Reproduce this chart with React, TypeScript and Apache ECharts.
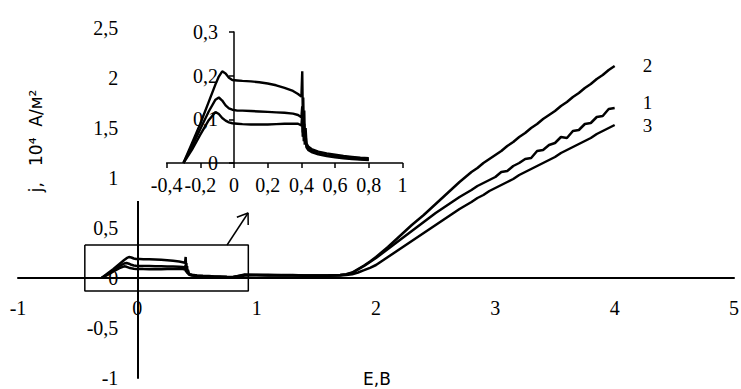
import React, { useEffect, useRef } from 'react';
import * as echarts from 'echarts';

// ---------- data ----------
// shared potential grid for the low-potential part (also shown in the inset)
const lowX = [-0.3, -0.25, -0.2, -0.15, -0.11, -0.09, -0.07, -0.05, -0.03, -0.01, 0.02, 0.05, 0.1, 0.15, 0.2, 0.25, 0.3, 0.35, 0.38, 0.4, 0.405, 0.408, 0.411, 0.414, 0.417, 0.42, 0.425, 0.43, 0.44, 0.46, 0.5, 0.55, 0.6, 0.65, 0.7, 0.75, 0.8];
const low2 = [0, 0.045, 0.09, 0.14, 0.18, 0.198, 0.21, 0.205, 0.195, 0.19, 0.189, 0.188, 0.187, 0.185, 0.182, 0.178, 0.172, 0.165, 0.158, 0.152, 0.21, 0.12, 0.15, 0.08, 0.12, 0.06, 0.08, 0.045, 0.038, 0.032, 0.026, 0.022, 0.019, 0.016, 0.014, 0.012, 0.011];
const low1 = [0, 0.038, 0.078, 0.118, 0.145, 0.15, 0.143, 0.132, 0.125, 0.122, 0.12, 0.12, 0.119, 0.118, 0.117, 0.116, 0.115, 0.113, 0.11, 0.105, 0.13, 0.07, 0.11, 0.06, 0.09, 0.05, 0.065, 0.04, 0.034, 0.028, 0.022, 0.018, 0.015, 0.013, 0.011, 0.009, 0.008];
const low3 = [0, 0.03, 0.065, 0.098, 0.117, 0.112, 0.103, 0.097, 0.093, 0.091, 0.09, 0.089, 0.088, 0.088, 0.088, 0.089, 0.09, 0.09, 0.09, 0.086, 0.11, 0.06, 0.09, 0.05, 0.075, 0.042, 0.055, 0.036, 0.03, 0.025, 0.02, 0.016, 0.013, 0.011, 0.009, 0.008, 0.007];

// high-potential part (main chart only)
const highX = [0.9, 1.0, 1.1, 1.2, 1.3, 1.4, 1.5, 1.6, 1.7, 1.75, 1.8, 1.85, 1.9, 1.95, 2.0, 2.1, 2.2, 2.3, 2.4, 2.5, 2.6, 2.7, 2.8, 2.85, 2.9, 2.95, 3.0, 3.05, 3.1, 3.15, 3.2, 3.25, 3.3, 3.35, 3.4, 3.45, 3.5, 3.55, 3.6, 3.65, 3.7, 3.75, 3.8, 3.85, 3.9, 3.95, 4.0];
const high2 = [0.03, 0.032, 0.028, 0.03, 0.027, 0.025, 0.024, 0.026, 0.03, 0.038, 0.055, 0.09, 0.125, 0.165, 0.21, 0.31, 0.42, 0.53, 0.63, 0.74, 0.85, 0.96, 1.06, 1.1, 1.15, 1.19, 1.23, 1.27, 1.32, 1.36, 1.41, 1.45, 1.5, 1.54, 1.59, 1.63, 1.67, 1.72, 1.76, 1.81, 1.85, 1.9, 1.94, 1.99, 2.03, 2.08, 2.12];
const high1 = [0.035, 0.03, 0.032, 0.028, 0.03, 0.026, 0.025, 0.027, 0.03, 0.036, 0.05, 0.085, 0.12, 0.16, 0.2, 0.29, 0.38, 0.47, 0.56, 0.65, 0.73, 0.81, 0.88, 0.92, 0.95, 0.98, 1.01, 1.06, 1.07, 1.12, 1.15, 1.19, 1.2, 1.27, 1.28, 1.33, 1.35, 1.41, 1.4, 1.47, 1.48, 1.54, 1.55, 1.61, 1.62, 1.69, 1.7];
const high3 = [0.025, 0.028, 0.025, 0.026, 0.024, 0.022, 0.022, 0.023, 0.026, 0.03, 0.038, 0.055, 0.078, 0.102, 0.13, 0.21, 0.29, 0.37, 0.45, 0.53, 0.61, 0.69, 0.76, 0.8, 0.83, 0.87, 0.9, 0.93, 0.96, 0.99, 1.03, 1.06, 1.09, 1.12, 1.15, 1.18, 1.21, 1.25, 1.28, 1.31, 1.34, 1.37, 1.4, 1.44, 1.47, 1.5, 1.53];

const curveNames = ['2', '1', '3'];

// zoom box and arrow (annotation, data coordinates)
const boxX = [-0.44, 0.93, 0.93, -0.44, -0.44];
const boxY = [0.33, 0.33, -0.13, -0.13, 0.33];
const arrowX = [0.752, 0.928];
const arrowY = [0.33, 0.65];
const headX = [0.834, 0.928, 0.929];
const headY = [0.607, 0.65, 0.53];

// axis ranges [min, max, interval]
const mainXRange = [-1, 5, 1];
const mainYRange = [-1, 2.5, 0.5];
const insetXRange = [-0.4, 1, 0.2];
const insetYRange = [0, 0.3, 0.1];

const fmtNum = (v: number) => String(Math.round(v * 100) / 100).replace('.', ',');
const pairs = (xs: number[], ys: number[]) => xs.map((x, i) => [x, ys[i]]);

const SERIF = 'Liberation Serif';
const serifStyle = { color: '#000', fontFamily: SERIF, fontSize: 20, fontWeight: 'normal' as const };

export default function App() {
  const ref = useRef<HTMLDivElement>(null);
  useEffect(() => {
    if (!ref.current) return;
    const chart = echarts.init(ref.current, null, { renderer: 'svg' });
    const lows = [low2, low1, low3];
    const highs = [high2, high1, high3];
    const endOffsets = [[20, -1], [20, -6], [20, 0]];

    const mainSeries = lows.map((l, i) => ({
      type: 'line',
      xAxisIndex: 0,
      yAxisIndex: 0,
      data: pairs(lowX, l).concat(pairs(highX, highs[i])),
      symbol: 'none',
      silent: true,
      z: 2,
      lineStyle: { color: '#000', width: 2.5 },
      endLabel: {
        show: true,
        formatter: curveNames[i],
        offset: endOffsets[i],
        ...serifStyle,
        fontSize: 19,
      },
    }));

    const insetSeries = lows.map((l) => ({
      type: 'line',
      xAxisIndex: 1,
      yAxisIndex: 1,
      data: pairs(lowX, l),
      symbol: 'none',
      silent: true,
      z: 6,
      lineStyle: { color: '#000', width: 2.4 },
    }));

    const annot = (xs: number[], ys: number[]) => ({
      type: 'line',
      xAxisIndex: 0,
      yAxisIndex: 0,
      data: pairs(xs, ys),
      symbol: 'none',
      silent: true,
      z: 2,
      lineStyle: { color: '#000', width: 1.5 },
    });

    const axisLabel = (margin: number) => ({
      margin,
      formatter: (v: number) => '{s|' + fmtNum(v) + '}',
      ...serifStyle,
      rich: { s: { ...serifStyle } },
    });

    chart.setOption({
      animation: false,
      backgroundColor: '#fff',
      textStyle: { fontFamily: SERIF },
      grid: [
        { left: 18, right: 7, top: 28, bottom: 11, outerBoundsMode: 'none', containLabel: false },
        { left: 166.6, right: 338.5, top: 32, bottom: 226, outerBoundsMode: 'none', containLabel: false },
      ],
      xAxis: [
        {
          gridIndex: 0, type: 'value', min: mainXRange[0], max: mainXRange[1], interval: mainXRange[2],
          position: 'bottom', offset: -100,
          axisLine: { onZero: false, lineStyle: { color: '#000', width: 2 } },
          axisTick: { show: false }, splitLine: { show: false },
          axisLabel: axisLabel(20),
        },
        {
          gridIndex: 1, type: 'value', min: insetXRange[0], max: insetXRange[1], interval: insetXRange[2],
          position: 'bottom', z: 5,
          axisLine: { onZero: false, lineStyle: { color: '#000', width: 1.5 } },
          axisTick: { show: true, inside: false, length: 5, lineStyle: { color: '#000', width: 1.5 } },
          splitLine: { show: false },
          axisLabel: axisLabel(12),
        },
      ],
      yAxis: [
        {
          gridIndex: 0, type: 'value', min: mainYRange[0], max: mainYRange[1], interval: mainYRange[2],
          position: 'left', offset: -119.3,
          axisLine: { onZero: false, lineStyle: { color: '#000', width: 2 } },
          axisTick: { show: false }, splitLine: { show: false },
          axisLabel: axisLabel(19),
        },
        {
          gridIndex: 1, type: 'value', min: insetYRange[0], max: insetYRange[1], interval: insetYRange[2],
          position: 'left', offset: -67.4, z: 5,
          axisLine: { onZero: false, lineStyle: { color: '#000', width: 1.5 } },
          axisTick: { show: true, inside: false, length: 5, lineStyle: { color: '#000', width: 1.5 } },
          splitLine: { show: false },
          axisLabel: axisLabel(16),
        },
      ],
      graphic: [
        { type: 'rect', z: 3, silent: true, shape: { x: 125, y: 0, width: 298, height: 201 }, style: { fill: '#fff' } },
        {
          type: 'text', z: 10, x: 36, y: 141, rotation: Math.PI / 2,
          style: { text: 'j,   10⁴  A/м²', fill: '#000', font: '17px "DejaVu Sans"', align: 'center', verticalAlign: 'middle', textAlign: 'center', textVerticalAlign: 'middle' },
        },
        {
          type: 'text', z: 10, x: 377, y: 379,
          style: { text: 'E,B', fill: '#000', font: '17px "DejaVu Sans"', align: 'center', verticalAlign: 'middle', textAlign: 'center', textVerticalAlign: 'middle' },
        },
      ],
      series: [
        ...mainSeries,
        ...insetSeries,
        annot(boxX, boxY),
        annot(arrowX, arrowY),
        annot(headX, headY),
      ],
    });
    return () => chart.dispose();
  }, []);
  return (
    <div
      ref={ref}
      style={{ position: 'fixed', left: 0, top: 0, width: 741, height: 389, background: '#fff' }}
    />
  );
}
